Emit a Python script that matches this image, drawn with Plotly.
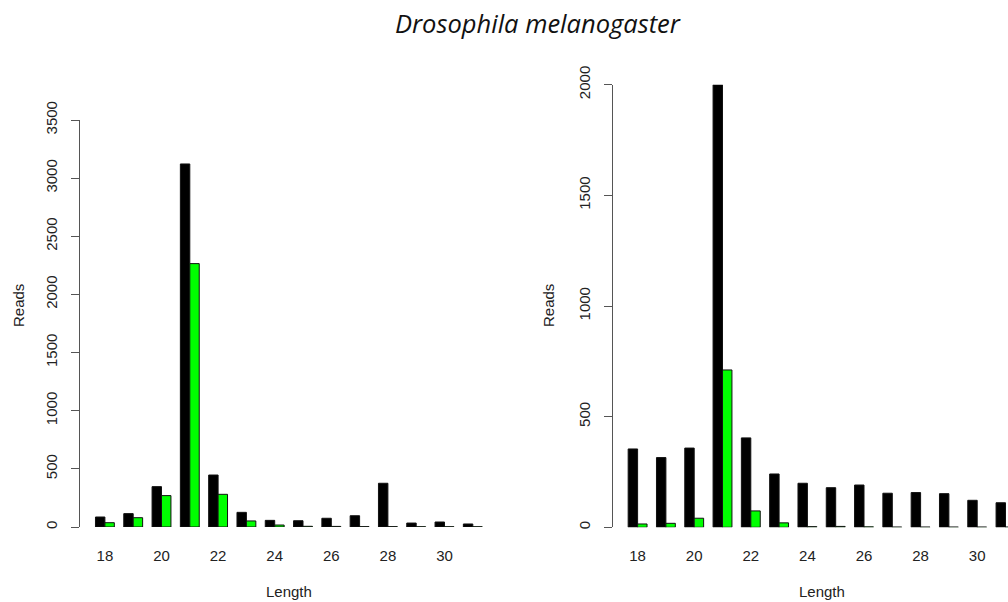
import plotly.graph_objects as go

lengths = list(range(18, 32))
left_black = [86, 115, 347, 3122, 447, 126, 57, 54, 75, 97, 376, 34, 43, 26]
left_green = [37, 80, 270, 2265, 281, 52, 17, 6, 5, 3, 3, 2, 2, 2]
right_black = [354, 315, 358, 2000, 404, 241, 199, 179, 191, 154, 157, 152, 122, 111]
right_green = [15, 18, 41, 711, 74, 20, 3, 4, 2, 1, 1, 1, 1, 1]
x_ticks = [18, 20, 22, 24, 26, 28, 30]
left_y_ticks = [0, 500, 1000, 1500, 2000, 2500, 3000, 3500]
right_y_ticks = [0, 500, 1000, 1500, 2000]

W, H = 1008, 602
FONT = "Liberation Sans"
TXT = "#222222"
AX = "#555555"
GREEN = "#00FF00"

def px_x(p):
    return p / W

def px_y(p):
    return 1 - p / H

fig = go.Figure()
line = dict(color="#111111", width=1)
fig.add_trace(go.Bar(x=lengths, y=left_black, marker=dict(color="black", line=line),
                     xaxis="x", yaxis="y", showlegend=False))
fig.add_trace(go.Bar(x=lengths, y=left_green, marker=dict(color=GREEN, line=line),
                     xaxis="x", yaxis="y", showlegend=False))
fig.add_trace(go.Bar(x=lengths, y=right_black, marker=dict(color="black", line=line),
                     xaxis="x2", yaxis="y2", showlegend=False))
fig.add_trace(go.Bar(x=lengths, y=right_green, marker=dict(color=GREEN, line=line),
                     xaxis="x2", yaxis="y2", showlegend=False))

pitch = 28.3
xcommon = dict(showgrid=False, zeroline=False, showline=False, ticks="",
               tickmode="array", tickvals=x_ticks, ticktext=[str(v) for v in x_ticks],
               tickfont=dict(family=FONT, size=15, color=TXT), ticklabelstandoff=18,
               automargin=False)
ycommon = dict(showgrid=False, zeroline=False, showline=True, linecolor=AX, linewidth=1,
               ticks="outside", ticklen=8, tickcolor=AX, tickwidth=1, tickangle=-90,
               tickfont=dict(family=FONT, size=15, color=TXT), ticklabelstandoff=8,
               tickmode="array", automargin=False)

ann_font = dict(family=FONT, size=15, color=TXT)
fig.update_layout(
    width=W, height=H,
    margin=dict(l=0, r=0, t=0, b=0, pad=0, autoexpand=False),
    paper_bgcolor="white", plot_bgcolor="white",
    barmode="group", bargap=1/3, bargroupgap=0,
    xaxis=dict(domain=[px_x(80), px_x(497.7)], range=[17.12, 31.88], anchor="y", **xcommon),
    yaxis=dict(domain=[px_y(527), px_y(120)], range=[0, 3500], anchor="x",
               tickvals=left_y_ticks, ticktext=[str(v) for v in left_y_ticks], **ycommon),
    xaxis2=dict(domain=[px_x(612.7), 1.0], range=[17.12, 17.12 + (W - 612.7) / pitch],
                anchor="y2", **xcommon),
    yaxis2=dict(domain=[px_y(527.3), px_y(84.7)], range=[0, 2000], anchor="x2",
                tickvals=right_y_ticks, ticktext=[str(v) for v in right_y_ticks], **ycommon),
    annotations=[
        dict(text="<i>Drosophila melanogaster</i>", x=px_x(538), y=px_y(23), xref="paper", yref="paper",
             xanchor="center", yanchor="middle",
             showarrow=False, font=dict(family="Open Sans", size=25.5, color="#111111")),
        dict(text="Reads", x=px_x(18), y=px_y(306), xref="paper", yref="paper", textangle=-90,
             xanchor="center", yanchor="middle", showarrow=False, font=ann_font),
        dict(text="Reads", x=px_x(548), y=px_y(306), xref="paper", yref="paper", textangle=-90,
             xanchor="center", yanchor="middle", showarrow=False, font=ann_font),
        dict(text="Length", x=px_x(289), y=px_y(591), xref="paper", yref="paper",
             xanchor="center", yanchor="middle", showarrow=False, font=ann_font),
        dict(text="Length", x=px_x(821.7), y=px_y(591), xref="paper", yref="paper",
             xanchor="center", yanchor="middle", showarrow=False, font=ann_font),
    ],
)

fig.write_html("out.html")
